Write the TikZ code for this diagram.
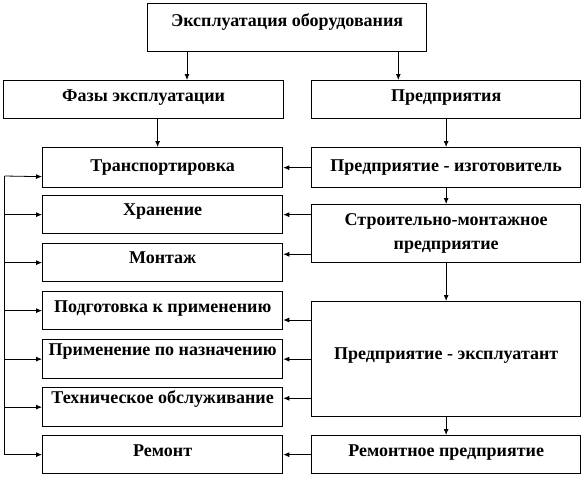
\documentclass[tikz,border=0pt]{standalone}
\usepackage{fontspec}
\setmainfont{Liberation Serif}
\usetikzlibrary{arrows.meta}

\begin{document}
\begin{tikzpicture}
    [x=1pt, y=-1pt,
     bx/.style={rectangle, draw, line width=1.3pt, anchor=north west, inner sep=0pt,
                font=\bfseries\fontsize{18}{24}\selectfont, align=center},
     ph/.style={bx, minimum width=240pt},
     en/.style={bx, minimum width=269pt},
     lift/.style={text height=12pt, text depth=#1},
     ar/.style={-{Latex[length=6pt, width=5pt]}, line width=0.8pt}]

    \useasboundingbox (0,0) rectangle (583,477);

    \node [bx, minimum width=279pt, minimum height=48pt, lift=14pt] (top) at (147,3) {Эксплуатация оборудования};

    \node [bx, minimum width=280pt, minimum height=38pt, lift=8pt] (faz) at (3,80) {Фазы эксплуатации};
    \node [en, minimum height=38pt, lift=8pt] (pred) at (311,80) {Предприятия};

    \node [ph, minimum height=40pt] (trans) at (42,147) {Транспортировка};
    \node [ph, minimum height=38pt, lift=10pt] (hran) at (42,195) {Хранение};
    \node [ph, minimum height=38pt, lift=10pt] (mont) at (42,243) {Монтаж};
    \node [ph, minimum height=38pt, lift=9pt] (podg) at (42,291) {Подготовка к применению};
    \node [ph, minimum height=39pt, lift=19pt] (prim) at (42,339) {Применение по назначению};
    \node [ph, minimum height=39pt, lift=20pt] (tech) at (42,387) {Техническое обслуживание};
    \node [ph, minimum height=38pt, lift=8pt] (rem) at (42,435) {Ремонт};

    \node [en, minimum height=40pt] (izg) at (311,147) {Предприятие - изготовитель};
    \node [en, minimum height=58pt] (stroy) at (311,204) {Строительно-монтажное\\предприятие};
    \node [en, minimum height=115pt, lift=11pt] (expl) at (311,301) {Предприятие - эксплуатант};
    \node [en, minimum height=38pt, lift=8pt] (remp) at (311,435) {Ремонтное предприятие};

    % top level
    \draw [ar] ([xshift=40pt] top.south west) -- ([xshift=40pt] top.south west |- faz.north);
    \draw [ar] ([xshift=-29pt] top.south east) -- ([xshift=-29pt] top.south east |- pred.north);
    \draw [ar] ([xshift=-5pt] trans.north |- faz.south) -- ([xshift=-5pt] trans.north);

    % enterprises chain
    \draw [ar] (pred.south) -- (izg.north);
    \draw [ar] (izg.south) -- (stroy.north);
    \draw [ar] (stroy.south) -- (expl.north);
    \draw [ar] (expl.south) -- (remp.north);

    % enterprises to phases
    \draw [ar] (izg.west) -- (trans.east);
    \draw [ar] (stroy.west |- hran.east) -- (hran.east);
    \draw [ar] ([yshift=9pt] stroy.south west) -- ([yshift=9pt] stroy.south west -| mont.east);
    \draw [ar] ([yshift=-19pt] expl.north west) -- ([yshift=-19pt] expl.north west -| podg.east);
    \draw [ar] (expl.west |- prim.east) -- (prim.east);
    \draw [ar] ([yshift=19pt] expl.south west) -- ([yshift=19pt] expl.south west -| tech.east);
    \draw [ar] (remp.west) -- (rem.east);

    % left bus
    \coordinate (bus) at (4.5,176);
    \draw [line width=0.8pt] (bus) -- (bus |- rem.west);
    \draw [ar] (bus) -- ([yshift=-9pt] trans.west);
    \draw [ar] (bus |- hran.west) -- (hran.west);
    \draw [ar] (bus |- mont.west) -- (mont.west);
    \draw [ar] (bus |- podg.west) -- (podg.west);
    \draw [ar] (bus |- prim.west) -- (prim.west);
    \draw [ar] (bus |- tech.west) -- (tech.west);
    \draw [ar] (bus |- rem.west) -- (rem.west);
\end{tikzpicture}
\end{document}
